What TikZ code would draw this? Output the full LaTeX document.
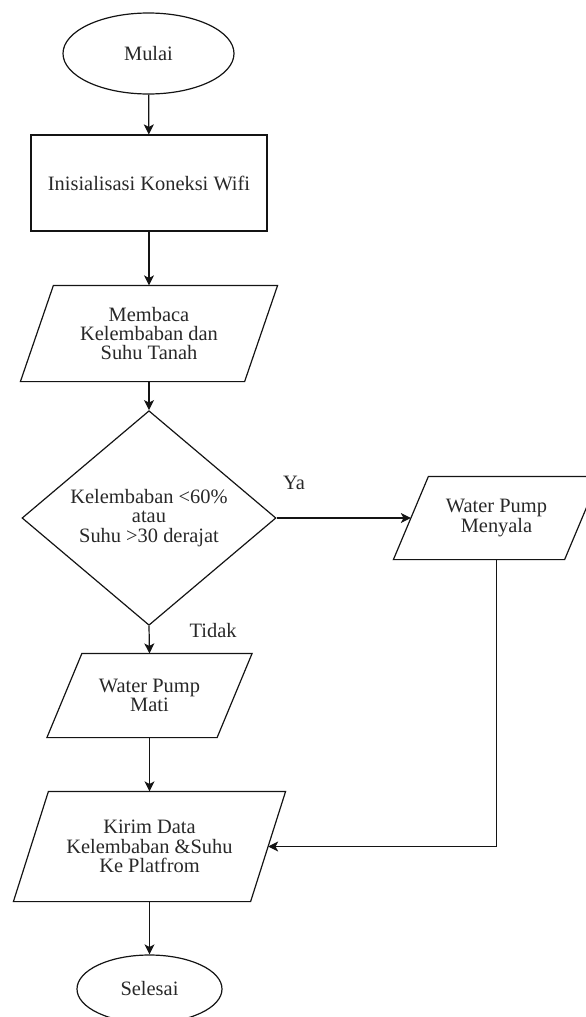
\documentclass[tikz,border=0pt]{standalone}
\usepackage{fontspec}
\setmainfont{Liberation Serif}
\usetikzlibrary{shapes.geometric, arrows.meta, positioning}
\definecolor{LineColor}{RGB}{20,20,20}
\definecolor{TextColor}{RGB}{40,40,40}
\tikzstyle{arrow} = [line width=1.2bp, LineColor, -{Stealth[length=10bp, width=10bp, inset=2.5bp]}]
\tikzset{
  base/.style={draw=LineColor, line width=1.2bp, text=TextColor, align=center, inner sep=0pt,
    font=\fontsize{20.5}{19.5}\selectfont},
  terminal/.style={base, ellipse},
  process/.style={base, rectangle},
  io/.style={base, rectangle, draw=none},
  decision/.style={base, diamond},
  lbl/.style={text=TextColor, font=\fontsize{20.5}{19.5}\selectfont}
}
% slanted outline round an io node: name, half of the slant
\newcommand{\ioshape}[2]{%
  \draw[LineColor, line width=1.2bp] ([xshift=#2]#1.north west) -- ([xshift=#2]#1.north east)
    -- ([xshift=-#2]#1.south east) -- ([xshift=-#2]#1.south west) -- cycle;}

\begin{document}
\begin{tikzpicture}[x=1bp, y=-1bp]
  \useasboundingbox (0,0) rectangle (586,1017);

  % Start and setup
  \node[terminal, minimum width=171bp, minimum height=81bp] (mulai) at (148.5,53.5) {Mulai};
  \node[process, minimum width=236bp, minimum height=96bp] (init) at (149,183) {Inisialisasi Koneksi Wifi};

  % Sensor reading
  \node[io, minimum width=223bp, minimum height=95bp] (baca) at (149,333.5)
        {Membaca\\ Kelembaban dan\\ Suhu Tanah};
  \ioshape{baca}{16.5bp}

  % Decision
  \node[decision, minimum width=254bp, minimum height=190bp] (cek) at (149,518)
        {Kelembaban <60\%\\ atau\\ Suhu >30 derajat};

  % Pump states
  \node[io, minimum width=170bp, minimum height=82bp] (nyala) at (496.5,518)
        {Water Pump\\ Menyala};
  \ioshape{nyala}{17.5bp}
  \node[io, minimum width=169bp, minimum height=83bp] (mati) at (149.5,695.5)
        {Water Pump\\ Mati};
  \ioshape{mati}{17.5bp}

  % Send data and end
  \node[io, minimum width=236bp, minimum height=109bp] (kirim) at (149.5,846.5)
        {Kirim Data\\ Kelembaban \&Suhu\\ Ke Platfrom};
  \ioshape{kirim}{17.5bp}
  \node[terminal, minimum width=145bp, minimum height=68bp] (selesai) at (149.5,989) {Selesai};

  % Connectors
  \draw[arrow] (mulai) -- (init);
  \draw[arrow] (init) -- (baca);
  \draw[arrow] (baca) -- (cek);
  \draw[arrow] (cek.east) -- node[lbl, pos=0.13, yshift=35bp] {Ya} (nyala.west);
  \draw[arrow] (cek.south) -- node[lbl, pos=0.17, xshift=64bp] {Tidak} (mati.north);
  \draw[arrow] (mati) -- (kirim);
  \draw[arrow] (nyala.south) |- (kirim.east);
  \draw[arrow] (kirim) -- (selesai);
\end{tikzpicture}
\end{document}
